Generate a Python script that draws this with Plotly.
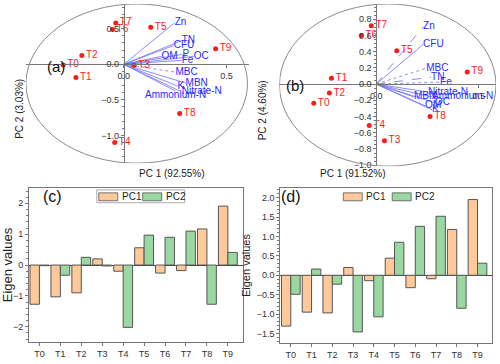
import plotly.graph_objects as go

W, H = 500, 364
FONT = "Liberation Sans, Arial, sans-serif"

samples = ["T0", "T1", "T2", "T3", "T4", "T5", "T6", "T7", "T8", "T9"]

# PCA scores, panel (a)
pc1_a = [-0.295, -0.233, -0.204, 0.05, -0.044, 0.131, -0.055, -0.039, 0.272, 0.447]
pc2_a = [-0.01, -0.185, 0.125, -0.014, -1.10, 0.52, 0.49, 0.58, -0.69, 0.218]
# PCA scores, panel (b)
pc1_b = [-0.304, -0.218, -0.228, 0.04, -0.034, 0.10, -0.073, -0.024, 0.262, 0.443]
pc2_b = [-0.235, 0.073, -0.11, -0.70, -0.51, 0.41, 0.60, 0.72, -0.40, 0.15]

# loadings (a)
vars_a = ["Zn", "TN", "CFU", "OM", "P", "OC", "Fe", "MBC", "MBN", "K", "Nitrate-N", "Ammonium-N"]
load1_a = [0.248, 0.282, 0.243, 0.184, 0.286, 0.34, 0.282, 0.252, 0.301, 0.262, 0.282, 0.252]
load2_a = [0.583, 0.333, 0.264, 0.111, 0.139, 0.111, 0.056, -0.111, -0.264, -0.306, -0.389, -0.375]
# loadings (b)
vars_b = ["Zn", "CFU", "MBC", "TN", "Fe", "Nitrate-N", "MBN", "Ammonium-N", "OC", "OM", "K"]
load1_b = [0.228, 0.228, 0.243, 0.267, 0.311, 0.252, 0.184, 0.272, 0.286, 0.238, 0.272]
load2_b = [0.707, 0.488, 0.195, 0.085, 0.024, -0.098, -0.159, -0.159, -0.232, -0.268, -0.317]

# confidence ellipses: centre x, centre y, radius x, radius y
ellipse_a = [0.063, -0.271, 0.539, 1.118]
ellipse_b = [0.056, -0.012, 0.527, 1.0]

# eigen values (c) and (d)
eig1_c = [-1.27, -1.03, -0.9, 0.2, -0.2, 0.56, -0.26, -0.18, 1.17, 1.91]
eig2_c = [-0.02, -0.33, 0.25, -0.03, -2.02, 0.97, 0.9, 1.1, -1.27, 0.41]
eig1_d = [-1.31, -0.95, -0.97, 0.2, -0.14, 0.44, -0.32, -0.09, 1.18, 1.95]
eig2_d = [-0.49, 0.16, -0.23, -1.46, -1.07, 0.85, 1.26, 1.52, -0.85, 0.31]


def fx(px):
    return px / W


def fy(py):
    return 1 - py / H


fig = go.Figure()

LINE = "#6f6fff"
BLUE = "#2a2aff"
RED = "#ff1a1a"
GREY = "#777777"


def biplot(ax, s1, s2, names, l1, l2, dashes, tpos, ell, xr, yr, xdom, ydom, dtick_y, pcx, pcy, tag, tagpos):
    xa = "x" if ax == 1 else "x%d" % ax
    ya = "y" if ax == 1 else "y%d" % ax
    for i in range(len(names)):
        fig.add_trace(go.Scatter(x=[0, l1[i]], y=[0, l2[i]], mode="lines", xaxis=xa, yaxis=ya,
                                 line=dict(color=LINE, width=0.8, dash=dashes[i]),
                                 hoverinfo="skip", showlegend=False))
    fig.add_trace(go.Scatter(x=l1, y=l2, text=names, mode="text", xaxis=xa, yaxis=ya,
                             textposition=tpos, cliponaxis=False,
                             textfont=dict(color=BLUE, size=10, family=FONT),
                             showlegend=False))
    fig.add_trace(go.Scatter(x=s1, y=s2, text=samples, mode="markers+text", xaxis=xa, yaxis=ya,
                             textposition="middle right", cliponaxis=False,
                             marker=dict(color=RED, size=5),
                             textfont=dict(color=RED, size=10, family=FONT),
                             showlegend=False))
    cx, cy, rx, ry = ell
    fig.add_shape(type="circle", xref=xa, yref=ya, x0=cx - rx, x1=cx + rx, y0=cy - ry, y1=cy + ry,
                  line=dict(color="#8a8a8a", width=1))
    xd = [fx(xdom[0]), fx(xdom[1])]
    yd = [fy(ydom[1]), fy(ydom[0])]
    xpos = yd[0] + (0 - yr[0]) / (yr[1] - yr[0]) * (yd[1] - yd[0])
    ypos = xd[0] + (0 - xr[0]) / (xr[1] - xr[0]) * (xd[1] - xd[0])
    common = dict(showgrid=False, zeroline=False, showline=True, linecolor=GREY, linewidth=1,
                  ticks="outside", ticklen=3, tickcolor=GREY, tickformat=".1f",
                  tickfont=dict(size=9, color="#333", family=FONT), anchor="free")
    kx = "xaxis" if ax == 1 else "xaxis%d" % ax
    ky = "yaxis" if ax == 1 else "yaxis%d" % ax
    fig.update_layout({kx: dict(common, domain=xd, range=xr, dtick=0.5, position=xpos),
                       ky: dict(common, domain=yd, range=yr, dtick=dtick_y, position=ypos,
                                minor=dict(ticks="outside", ticklen=2, tickcolor=GREY))})
    fig.add_annotation(text=pcx, x=(xd[0] + xd[1]) / 2, y=fy(175), xref="paper", yref="paper",
                       showarrow=False, font=dict(size=10, color="#222", family=FONT))
    fig.add_annotation(text=pcy, x=fx(pcy_x[ax]), y=(yd[0] + yd[1]) / 2 + 0.02, xref="paper", yref="paper",
                       textangle=-90, showarrow=False, font=dict(size=10, color="#222", family=FONT))
    fig.add_annotation(text=tag, x=fx(tagpos[0]), y=fy(tagpos[1]), xref="paper", yref="paper",
                       showarrow=False, font=dict(size=15, color="#111", family=FONT))


pcy_x = {1: 11, 2: 262}

dash_a = ["solid", "solid", "solid", "solid", "solid", "solid", "solid", "dot", "solid", "solid", "solid", "solid"]
tpos_a = ["middle right"] * 11 + ["bottom center"]
biplot(1, pc1_a, pc2_a, vars_a, load1_a, load2_a, dash_a, tpos_a, ellipse_a,
       [-0.476, 0.607], [-1.389, 0.847], [25, 248], [4, 165], 0.5,
       "PC 1 (92.55%)", "PC 2 (3.03%)", "(a)", (44, 57))

dash_b = ["dash", "solid", "dot", "dash", "dot", "solid", "solid", "solid", "solid", "solid", "solid"]
tpos_b = ["middle right"] * 11
biplot(2, pc1_b, pc2_b, vars_b, load1_b, load2_b, dash_b, tpos_b, ellipse_b,
       [-0.471, 0.583], [-1.012, 0.988], [279, 496], [4, 168], 0.2,
       "PC 1 (91.52%)", "PC 2 (4.60%)", "(b)", (295, 76))

# bar panels
ORANGE = "#ffc99a"
GREEN = "#9bd8a1"
EDGE = "#555555"


def legend_box(items, boxed):
    # items: (x0 swatch px, colour, label) ; drawn in paper space
    for x0, col, lab in items:
        fig.add_shape(type="rect", xref="paper", yref="paper", x0=fx(x0), x1=fx(x0 + 19),
                      y0=fy(203), y1=fy(195), fillcolor=col, line=dict(color=EDGE, width=0.8))
        fig.add_annotation(text=lab, x=fx(x0 + 21), y=fy(199), xref="paper", yref="paper",
                           xanchor="left", showarrow=False, font=dict(size=10, color="#222", family=FONT))
    if boxed:
        fig.add_shape(type="rect", xref="paper", yref="paper", x0=fx(items[0][0] - 2), x1=fx(184),
                      y0=fy(205), y1=fy(192), line=dict(color="#aaaaaa", width=1))


def barpanel(ax, e1, e2, xdom, ydom, yr, dtick, fmt, tag, tagpos, title_size):
    xa, ya = "x%d" % ax, "y%d" % ax
    fig.add_trace(go.Bar(x=samples, y=e1, name="PC1", xaxis=xa, yaxis=ya, showlegend=False,
                         marker=dict(color=ORANGE, line=dict(color=EDGE, width=1))))
    fig.add_trace(go.Bar(x=samples, y=e2, name="PC2", xaxis=xa, yaxis=ya, showlegend=False,
                         marker=dict(color=GREEN, line=dict(color=EDGE, width=1))))
    xd = [fx(xdom[0]), fx(xdom[1])]
    yd = [fy(ydom[1]), fy(ydom[0])]
    fig.update_layout({
        "xaxis%d" % ax: dict(domain=xd, anchor=ya, range=[-0.5, 9.7], showline=True, mirror=True,
                            linecolor=GREY, linewidth=1, ticks="outside", ticklen=3, tickcolor=GREY,
                            showgrid=False, tickfont=dict(size=9, color="#333", family=FONT)),
        "yaxis%d" % ax: dict(domain=yd, anchor=xa, range=yr, dtick=dtick, tickformat=fmt,
                            showline=True, mirror=True, linecolor=GREY, linewidth=1,
                            ticks="outside", ticklen=3, tickcolor=GREY, showgrid=False,
                            zeroline=True, zerolinecolor="#444", zerolinewidth=1,
                            minor=dict(ticks="outside", ticklen=2, tickcolor=GREY),
                            tickfont=dict(size=9, color="#333", family=FONT),
                            title=dict(text="Eigen values", standoff=4,
                                       font=dict(size=title_size, color="#222", family=FONT))),
    })
    fig.add_annotation(text=tag, x=fx(tagpos[0]), y=fy(tagpos[1]), xref="paper", yref="paper",
                       showarrow=False, font=dict(size=16, color="#111", family=FONT))


barpanel(3, eig1_c, eig2_c, [28, 242], [190, 346], [-2.5, 2.5], 1, "d", "(c)", (40, 199), 13)
barpanel(4, eig1_d, eig2_d, [280, 492], [190, 347], [-1.75, 2.25], 0.5, ".1f", "(d)", (291, 199), 11)

legend_box([(98, ORANGE, "PC1"), (142, GREEN, "PC2")], True)
legend_box([(343, ORANGE, "PC1"), (392, GREEN, "PC2")], False)

fig.update_layout(
    width=W, height=H,
    margin=dict(l=0, r=0, t=0, b=0),
    paper_bgcolor="white", plot_bgcolor="white",
    bargap=0.1, bargroupgap=0,
    font=dict(family=FONT),
    showlegend=False,
)

fig.write_html("out.html", config={"displayModeBar": False},
               post_script="document.body.style.margin='0';")
